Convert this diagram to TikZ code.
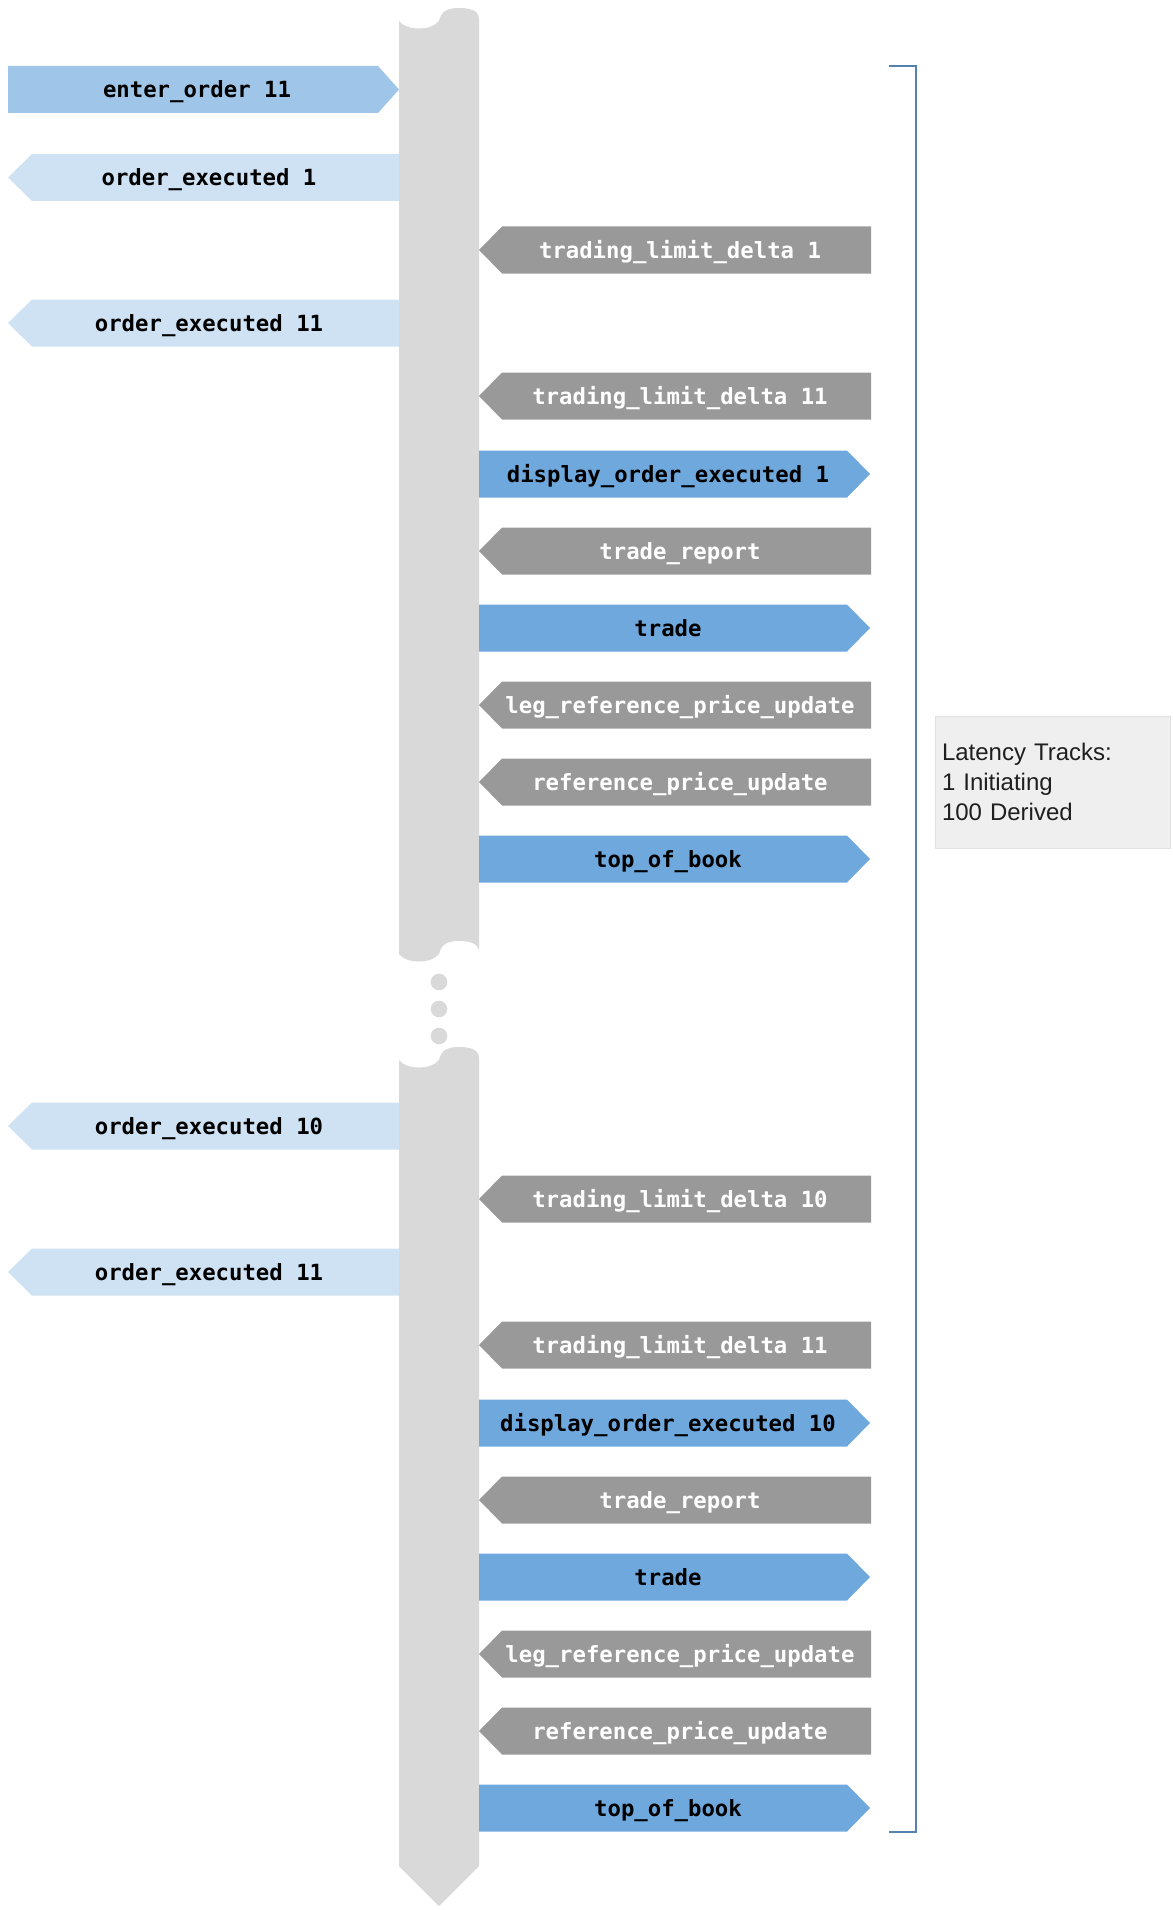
\documentclass[tikz,border=0pt]{standalone}
\usepackage{fontspec}
\setmainfont{Liberation Sans}
\newfontfamily\monofamily{DejaVu Sans Mono}

\definecolor{barGray}{HTML}{D9D9D9}
\definecolor{inBlue}{HTML}{9FC5E8}
\definecolor{execBlue}{HTML}{CFE2F3}
\definecolor{derGray}{HTML}{999999}
\definecolor{derBlue}{HTML}{6FA8DC}
\definecolor{braceBlue}{HTML}{5580B0}
\definecolor{noteFill}{HTML}{EFEFEF}
\definecolor{noteEdge}{HTML}{E0E0E0}

\tikzset{
  evt/.style={font=\monofamily\bfseries\fontsize{22.3}{26}\selectfont, inner sep=0pt, anchor=base},
  evtdark/.style={evt, text=black},
  evtlight/.style={evt, text=white},
  note/.style={draw=noteEdge, line width=0.8pt, fill=noteFill, minimum width=235pt, minimum height=132pt,
    text width=221pt, inner sep=0pt, align=left,
    font=\fontsize{24}{30}\selectfont, text=black!88},
  bracket/.style={draw=braceBlue, line width=2pt},
}

\begin{document}
\begin{tikzpicture}[x=1pt,y=-1pt]
\useasboundingbox (0,0) rectangle (1172,1910);

% timeline: upper piece with torn edges
\fill[barGray] (399,21) .. controls (405,30) and (430,32) .. (439,21)
  .. controls (441,11) and (448,8) .. (459,8)
  .. controls (471,8) and (479,11) .. (479,19)
  -- (479,952) .. controls (479,944) and (471,941) .. (459,941)
  .. controls (448,941) and (441,944) .. (439,954)
  .. controls (430,965) and (405,963) .. (399,954) -- cycle;

% gap dots
\foreach \d/\yy in {dotA/982, dotB/1009, dotC/1036}
  \fill[barGray] (439,\yy) circle (8.3pt);

% timeline: lower piece ending in a point
\fill[barGray] (399,1060) .. controls (405,1069) and (430,1071) .. (439,1060)
  .. controls (441,1050) and (448,1047) .. (459,1047)
  .. controls (471,1047) and (479,1050) .. (479,1058)
  -- (479,1866) -- (439,1906) -- (399,1866) -- cycle;

% initiating message
\fill[inBlue] (8,66) -- (378,66) -- (399,89.5) -- (378,113) -- (8,113) -- cycle;
\node[evtdark] (enter) at (197,98) {enter\_order 11};

% messages coming back on the left
\foreach \n/\y/\t in {oeA1/177.5/order\_executed 1, oeA11/323/order\_executed 11,
                      oeB10/1126/order\_executed 10, oeB11/1272/order\_executed 11}{
  \fill[execBlue] (8,\y) -- (32,\y-23.5) -- (399,\y-23.5) -- (399,\y+23.5) -- (32,\y+23.5) -- cycle;
  \node[evtdark] (\n) at (209,\y+8.5) {\t};
}

% derived messages going out on the right
\foreach \n/\y/\t in {disA/474/display\_order\_executed 1, trdA/628/trade, tobA/859/top\_of\_book,
                      disB/1423/display\_order\_executed 10, trdB/1577/trade, tobB/1808/top\_of\_book}{
  \fill[derBlue] (479,\y-23.5) -- (847,\y-23.5) -- (870,\y) -- (847,\y+23.5) -- (479,\y+23.5) -- cycle;
  \node[evtdark] (\n) at (668,\y+8.5) {\t};
}

% derived messages coming back on the right
\foreach \n/\y/\t in {tldA1/250/trading\_limit\_delta 1, tldA11/396/trading\_limit\_delta 11,
                      trpA/551/trade\_report, lrpA/705/leg\_reference\_price\_update,
                      rpuA/782/reference\_price\_update,
                      tldB10/1199/trading\_limit\_delta 10, tldB11/1345/trading\_limit\_delta 11,
                      trpB/1500/trade\_report, lrpB/1654/leg\_reference\_price\_update,
                      rpuB/1731/reference\_price\_update}{
  \fill[derGray] (479,\y) -- (502,\y-23.5) -- (871,\y-23.5) -- (871,\y+23.5) -- (502,\y+23.5) -- cycle;
  \node[evtlight] (\n) at (680,\y+8.5) {\t};
}

% bracket around the tracked span
\draw[bracket] (889,66) -- (916,66) -- (916,1832) -- (889,1832);

% summary note
\node[note] (tracks) at (1052.5,782) {Latency Tracks:\\1 Initiating\\100 Derived};
\end{tikzpicture}
\end{document}
